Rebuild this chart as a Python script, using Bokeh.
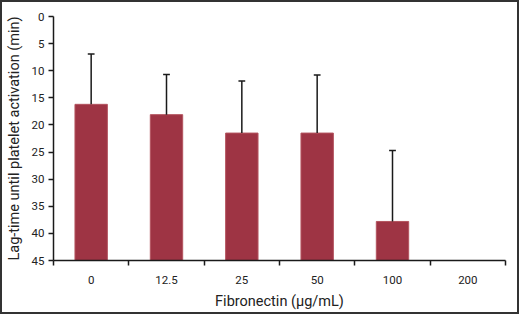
from bokeh.plotting import figure
from bokeh.models import Range1d, FixedTicker
from bokeh.embed import file_html
from bokeh.resources import INLINE

categories = ["0", "12.5", "25", "50", "100", "200"]
lag_time = [16.2, 18.1, 21.5, 21.5, 37.8, float("nan")]
err_top = [6.9, 10.7, 11.9, 10.8, 24.7, float("nan")]
y_ticks = [0, 5, 10, 15, 20, 25, 30, 35, 40, 45]

FONT = "Roboto"
BAR = "#9E3444"
INK = "#1a1a1a"

xs = [i + 0.5 for i in range(len(categories))]
bounds = list(range(len(categories) + 1))

p = figure(width=519, height=314, output_backend="svg", toolbar_location=None,
           x_range=Range1d(0, len(categories)), y_range=Range1d(45, 0),
           min_border_left=51, min_border_right=16, min_border_top=14, min_border_bottom=56)
p.styles = {"border": "2px solid #333333"}
p.outline_line_color = None
p.xgrid.grid_line_color = None
p.ygrid.grid_line_color = None
p.background_fill_color = "white"
p.border_fill_color = "white"

p.vbar(x=xs, top=lag_time, bottom=45, width=0.43, fill_color=BAR, line_color="#B4545F", line_width=1)
p.segment(x0=xs, y0=lag_time, x1=xs, y1=err_top, line_color=INK, line_width=1.5)
p.segment(x0=[x - 0.045 for x in xs], y0=err_top, x1=[x + 0.045 for x in xs], y1=err_top,
          line_color=INK, line_width=1.5)

xa = p.xaxis[0]
xa.ticker = FixedTicker(ticks=xs, minor_ticks=bounds)
xa.major_label_overrides = {x: c for x, c in zip(xs, categories)}
xa.major_tick_out = 0
xa.major_tick_in = 0
xa.minor_tick_out = 5
xa.minor_tick_in = 0
xa.minor_tick_line_color = INK
xa.minor_tick_line_width = 1.5
xa.axis_label = "Fibronectin (\u03bcg/mL)"
xa.major_label_standoff = 10

ya = p.yaxis[0]
ya.ticker = FixedTicker(ticks=y_ticks, minor_ticks=[])
ya.major_tick_out = 5
ya.major_tick_in = 0
ya.minor_tick_out = 0
ya.axis_label = "Lag-time until platelet activation (min)"
ya.major_label_standoff = 4

for ax in (xa, ya):
    ax.axis_line_color = INK
    ax.axis_line_width = 1.5
    ax.major_tick_line_color = INK
    ax.major_tick_line_width = 1.5
    ax.major_label_text_font = FONT
    ax.major_label_text_font_size = "11.5px"
    ax.major_label_text_color = "#222222"
    ax.axis_label_text_font = FONT
    ax.axis_label_text_font_style = "normal"
    ax.axis_label_text_color = "#222222"
    ax.axis_label_standoff = 6

xa.axis_label_text_font_size = "14.5px"
ya.axis_label_text_font_size = "14.5px"

open("out.html", "w").write(file_html(p, INLINE))
